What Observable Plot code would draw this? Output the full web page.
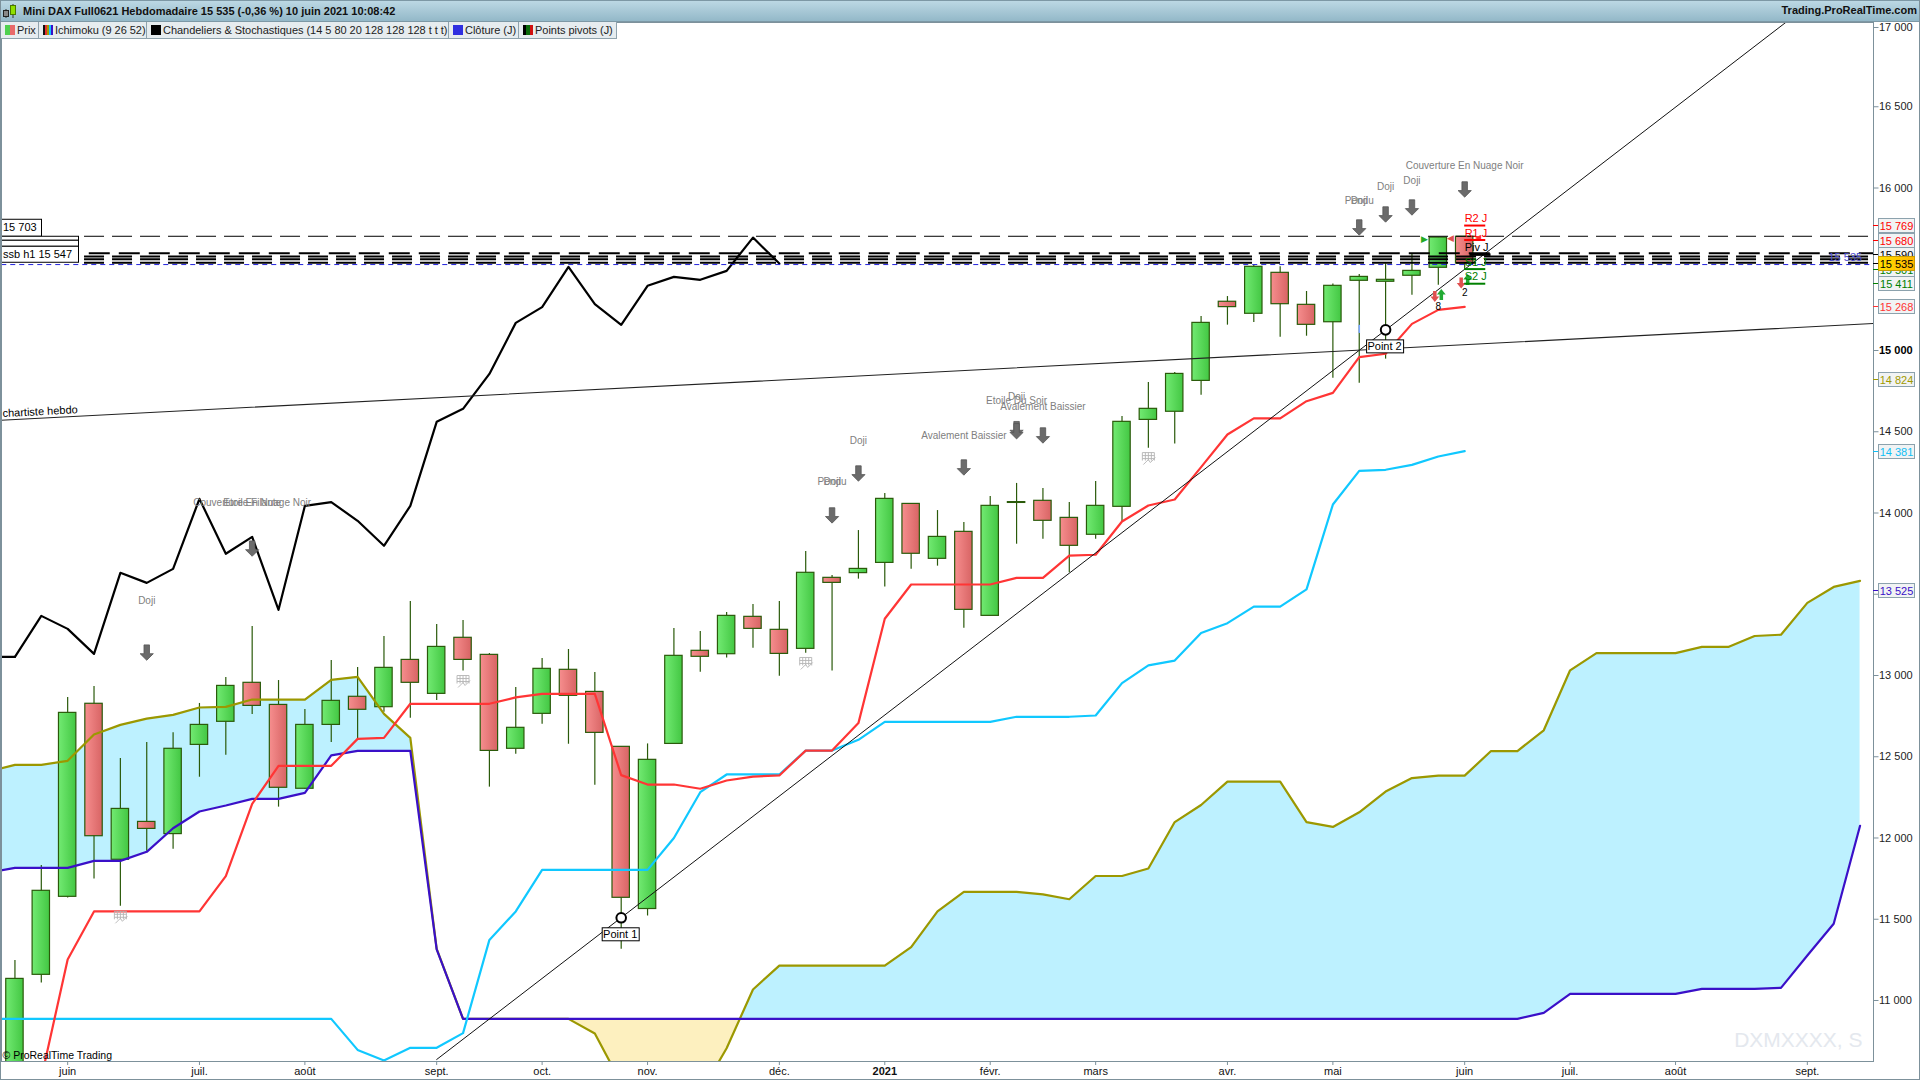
<!DOCTYPE html>
<html lang="fr">
<head>
<meta charset="utf-8">
<title>Mini DAX Full0621 Hebdomadaire</title>
<script src="https://cdn.jsdelivr.net/npm/d3@7"></script>
<script src="https://cdn.jsdelivr.net/npm/@observablehq/plot@0.6"></script>
<style>
html,body{margin:0;padding:0;background:#fff;width:1920px;height:1080px;overflow:hidden;font-family:"Liberation Sans",Arial,sans-serif}
#page{position:relative;width:1920px;height:1080px;overflow:hidden}
#titlebar{height:22px;box-sizing:border-box;background:linear-gradient(#bcd8e4,#93b8c8);border-bottom:1px solid #7d98a5;border-top:1px solid #7d98a5;display:flex;align-items:center;font-size:11px;font-weight:bold;color:#111;white-space:nowrap;position:relative}
#titlebar svg{margin:0 5px 0 2px}
#titlebar .r{position:absolute;right:3px;top:3px;font-size:11px}
#legend{position:absolute;top:22px;left:1px;height:17px;display:flex;font-size:11px;letter-spacing:-.03px;color:#222;z-index:3}
#legend div{box-sizing:border-box;height:17px;background:#e6ecef;border-right:1px solid #8fa3ad;border-bottom:1px solid #8fa3ad;display:flex;align-items:center;white-space:nowrap;overflow:hidden;padding-left:4px}
#legend i{display:inline-block;width:10px;height:10px;margin-right:2px;flex:none}
#bR,#bB,#bL{position:absolute;background:#7d919b}
#bR{right:0;top:0;width:1px;height:1080px}
#bB{left:0;bottom:0;height:1px;width:1920px}
#bL{left:0;top:0;width:1px;height:1080px}
#chart svg{display:block}
g[aria-label="pattern"] text{letter-spacing:.82px}
</style>
</head>
<body>
<div id="page">
  <div id="titlebar">
    <svg width="16" height="16" viewBox="0 0 16 16"><path d="M4 6v9M11 1v14" stroke="#333"/><rect x="1.5" y="7.5" width="5" height="6" fill="#888" stroke="#222"/><rect x="8.5" y="2.5" width="5" height="9" fill="#8fe000" stroke="#4a7a00"/></svg>
    <span>Mini DAX Full0621 Hebdomadaire 15 535 (-0,36 %) 10 juin 2021 10:08:42</span>
    <span class="r">Trading.ProRealTime.com</span>
  </div>
  <div id="legend">
    <div style="width:38px"><i style="background:linear-gradient(90deg,#4fd04f 50%,#e86a6a 50%)"></i>Prix</div>
    <div style="width:108px"><i style="background:linear-gradient(90deg,#111 20%,#e03030 20% 40%,#a09a00 40% 60%,#10c0ff 60% 80%,#3a10c8 80%)"></i>Ichimoku (9 26 52)</div>
    <div style="width:302px"><i style="background:#000"></i>Chandeliers &amp; Stochastiques (14 5 80 20 128 128 128 t t t)</div>
    <div style="width:70px"><i style="background:#2f2fe0"></i>Clôture (J)</div>
    <div style="width:98px"><i style="background:linear-gradient(90deg,#000 33%,#0a6a0a 33% 66%,#d01010 66%)"></i>Points pivots (J)</div>
  </div>
  <div id="chart"></div>
  <div id="bR"></div><div id="bB"></div><div id="bL"></div>
</div>
<script>
// ---- Candles, one value per week from index 0 ----
const opens  = [10400,11158,11638,12826,11866,12099,12024,12573,12715,12955,12819,12303,12696,12869,12805,13096,12887,13232,13127,12549,12764,13035,12899,12561,11563,12579,13152,13131,13361,13281,13164,13601,13630,13693,14056,13718,13884,13367,14062,14075,13970,13866,14038,14573,14623,14813,15300,15226,15478,15281,15174,15429,15423,15460,15509,15700];
const closes = [11133,11675,12770,12011,12179,12056,12549,12696,12936,12813,12309,12696,12844,12789,13047,12955,13176,13096,12536,12678,13041,12875,12647,11632,12481,13121,13115,13367,13287,13133,13632,13570,13656,14087,13749,13853,13404,14044,14067,13952,13798,14044,14561,14641,14856,15170,15267,15515,15285,15158,15398,15453,15435,15490,15695,15535];
const highs  = [11246,11831,12865,12932,12489,12588,12647,12828,12988,13301,12969,12791,13092,13049,13240,13455,13314,13338,13135,12926,13105,13160,13018,12561,12579,13289,13271,13388,13437,13455,13763,13615,13892,14120,14056,14015,13941,14101,14182,14151,14065,14194,14594,14803,14864,15209,15332,15523,15515,15363,15410,15468,15533,15595,15695,15700];
const lows   = [10400,11107,11630,11747,11580,11919,11931,12374,12510,12760,12190,12300,12588,12610,12774,12737,12846,13027,12313,12516,12700,12577,12325,11316,11520,12579,13020,13107,13168,12996,13137,13027,13593,13544,13654,13673,13291,13367,13808,13839,13632,13839,13944,14399,14424,14725,15156,15172,15082,15088,14830,14799,14947,15340,15402,15500];

// ---- Ichimoku ----
const spanAStart = -1;
const spanA = [12409,12450,12450,12475,12637,12696,12735,12758,12803,12807,12852,12852,12852,12973,12992,12764,12616,11318,10887,10887,10887,10887,10887,10797,10492,10400,10400,10428,10706,11068,11215,11215,11215,11215,11215,11329,11548,11668,11668,11668,11653,11623,11766,11766,11812,12098,12203,12347,12347,12347,12098,12068,12158,12286,12369,12384,12384,12535,12535,12663,13032,13138,13138,13138,13138,13176,13176,13243,13251,13447,13545,13582];
const spanB = [11786,11816,11816,11816,11859,11859,11915,12060,12163,12200,12241,12241,12278,12508,12536,12536,12536,11314,10887,10887,10887,10887,10887,10887,10887,10887,10887,10887,10887,10887,10887,10887,10887,10887,10887,10887,10887,10887,10887,10887,10887,10887,10887,10887,10887,10887,10887,10887,10887,10887,10887,10887,10887,10887,10887,10887,10887,10887,10887,10924,11041,11041,11041,11041,11041,11072,11072,11072,11078,11277,11472,12075];
const kijunStart = -1;
const kijun = [10887,10887,10887,10887,10887,10887,10887,10887,10887,10887,10887,10887,10887,10887,10696,10631,10709,10709,10799,11373,11548,11804,11804,11804,11804,11804,12000,12282,12391,12391,12391,12538,12538,12604,12715,12715,12715,12715,12715,12746,12746,12746,12754,12953,13062,13092,13262,13322,13424,13424,13530,14052,14259,14266,14296,14348,14381];
const tenkanStart = 1;
const tenkan = [10522,11252,11548,11548,11548,11548,11548,11765,12210,12444,12444,12444,12610,12616,12826,12826,12826,12826,12865,12887,12887,12887,12387,12329,12329,12303,12354,12378,12385,12538,12538,12707,13349,13560,13560,13560,13560,13601,13601,13738,13743,13948,14046,14083,14282,14483,14582,14582,14688,14739,14959,14980,15164,15250,15268];
// Lagging span: the weekly close drawn 26 weeks back
const chikouLag = 26;

// ---- Axes ----
const xTicks = [2,7,11,16,20,24,29,37,41,46,50,55,59,63,68];
const xTickLabels = ["juin","juil.","août","sept.","oct.","nov.","déc.","févr.","mars","avr.","mai","juin","juil.","août","sept."];
const xBoldTick = 33, xBoldLabel = "2021";
const yTicks = [11000,11500,12000,12500,13000,13500,14000,14500,16000,16500];
const yTopTick = 17000;
const yBoldTick = 15000;

// ---- Levels ----
const lastPrice = 15535;
const levelThin = [15703];
const levelWide = [15599];
const levelGroup = [15578,15562,15540];
const pivotNames = ["R2 J","R1 J","Piv J","S1 J","S2 J"];
const pivotValues = [15769,15680,15590,15501,15411];
const pivotColors = ["#ff0000","#ff0000","#000000","#008000","#008000"];
const tagValues = [15769,15680,15590,15501,15411,15268,14824,14381,13525,15535];
const tagColors = ["#ff0000","#ff0000","#000000","#008000","#008000","#ff3333","#a09a00","#10bff5","#3a10c8","#000000"];

// ---- Trend lines ----
const trendWeeks = [16,68];
const trendValues = [10637,17121];
const chartisteWeeks = [-1,71];
const chartisteValues = [14567,15170];
const anchorWeeks = [23,52];
const anchorValues = [11509,15127];
const anchorNames = ["Point 1","Point 2"];

// ---- Candle patterns ----
const arrowWeeks  = [5,9,31,32,36,38,38,39,51,52,53,55];
const arrowValues = [13141,13781,13985,14243,14280,14516,14503,14477,15757,15837,15880,15991];
const patWeeks  = [5,9,9,31,31,32,36,38,38,39,51,51,52,53,55];
const patValues = [13461,14060,14060,14194,14194,14442,14473,14688,14713,14655,15919,15919,16005,16042,16134];
const patNames  = ["Doji","Couverture En Nuage Noir","Etoile Filante","Pendu","Doji","Doji","Avalement Baissier","Etoile Du Soir","Doji","Avalement Baissier","Pendu","Doji","Doji","Doji","Couverture En Nuage Noir"];
const iconWeeks = [4,17,30,43];
const iconValues = [11512,12963,13074,14335];
const downWeeks = [54,55], downValues = [15332,15416];
const upWeeks = [54,55], upValues = [15345,15437];
const countWeeks = [54,55], countValues = [15266,15358], countNames = ["8","2"];

// ---- Colours ----
const wick = "#2a5a0a", red = "#ff3535", cyan = "#10c8ff", olive = "#9c9800", blue = "#3a10c8";
const gray = "#7d919b";

const fmt = v => String(v).replace(/(\d+)(\d{3})$/, "$1 $2");
const pts = (start, arr) => arr.map((v, k) => ({i: start + k, v}));
const zip = (a, b) => a.map((i, k) => ({i, v: b[k]}));
const candles = closes.map((c, i) => ({i, o: opens[i], c, h: highs[i], l: lows[i]}));
const up = candles.filter(d => d.c >= d.o), down = candles.filter(d => d.c < d.o);

// Cloud table: both spans, with the point where they cross, so that each colour stops there
const cloud = [];
spanA.forEach((a, k) => {
  const b = spanB[k], i = spanAStart + k;
  if (k) {
    const a0 = spanA[k - 1], b0 = spanB[k - 1];
    if ((a0 - b0) * (a - b) < 0) {
      const t = (b0 - a0) / ((a - a0) - (b - b0));
      const m = a0 + t * (a - a0);
      cloud.push({i: i - 1 + t, a: m, b: m});
    }
  }
  cloud.push({i, a, b});
});

const clip = {clip: true};
const poly = (P, u, c) => { P.forEach(([x,y],n)=> n ? c.lineTo(x*u,y*u) : c.moveTo(x*u,y*u)); c.closePath(); };
const symbolArrow = {draw(c, s) { poly([[-2.5,-7],[2.5,-7],[2.5,1],[6,1],[0,7],[-6,1],[-2.5,1]], Math.sqrt(s / Math.PI) / 6, c); }};
const symbolUp = {draw(c, s) { poly([[-1.6,5],[1.6,5],[1.6,0],[4,0],[0,-5],[-4,0],[-1.6,0]], Math.sqrt(s / Math.PI) / 5, c); }};
const symbolDown = {draw(c, s) { poly([[-1.6,-5],[1.6,-5],[1.6,0],[4,0],[0,5],[-4,0],[-1.6,0]], Math.sqrt(s / Math.PI) / 5, c); }};
const symbolIcon = {draw(c, s) { const u = Math.sqrt(s / Math.PI) / 6;
  for (let x=-6;x<=6;x+=3){c.moveTo(x*u,-6*u);c.lineTo(x*u,2*u);}
  for (let y=-6;y<=2;y+=3){c.moveTo(-6*u,y*u);c.lineTo(6*u,y*u);}
  c.moveTo(-5*u,6*u);c.lineTo(0,1*u);c.lineTo(2*u,4*u);c.lineTo(7*u,-1*u); }};

function gradients() {
  const g = d3.create("svg:defs");
  const add = (id, a, b) => { const l = g.append("linearGradient").attr("id", id);
    l.append("stop").attr("offset", "0").attr("stop-color", a);
    l.append("stop").attr("offset", "1").attr("stop-color", b); };
  add("candleUp", "#72ea72", "#43c743");
  add("candleDown", "#f68e8e", "#d86464");
  add("tagGold", "#ffe000", "#ffb400");
  const o = d3.create("svg:g"); o.node().append(g.node());
  return o.node();
}
function box(g, x, y, w, h, text, anchor) {
  g.append("rect").attr("x", x + .5).attr("y", y + .5).attr("width", w).attr("height", h).attr("fill", "#fff").attr("stroke", "#000");
  if (text) g.append("text").attr("x", anchor === "middle" ? x + w / 2 : x + 2).attr("y", y + h / 2 + 4).attr("text-anchor", anchor || "start").attr("fill", "#000").text(text);
}
function leftBoxes(index, {y}) {
  const g = d3.create("svg:g").attr("font-size", 11);
  const y0 = y(levelThin[0]);
  box(g, 1, y0 - 17, 40, 17, fmt(levelThin[0]));
  box(g, 1, y0, 77, 4);
  box(g, 1, y0 + 4, 77, 6);
  box(g, 1, y0 + 10, 77, 16, "ssb h1 15 547");
  return g.node();
}
function anchorBoxes(index, {x, y}) {
  const g = d3.create("svg:g").attr("font-size", 11);
  anchorWeeks.forEach((w, k) => {
    box(g, x(w) - 19, y(anchorValues[k]) + 10, 37, 13, anchorNames[k], "middle");
  });
  return g.node();
}
function priceTags(index, {y}, _, {width, marginRight}) {
  const g = d3.create("svg:g").attr("font-size", 11);
  const ax = width - marginRight;
  tagValues.forEach((v, k) => {
    const yy = Math.round(y(v)), last = v === lastPrice;
    g.append("line").attr("x1", ax).attr("x2", ax + 5).attr("y1", yy + .5).attr("y2", yy + .5).attr("stroke", tagColors[k]);
    g.append("rect").attr("x", ax + 5.5).attr("y", yy - 6.5).attr("width", 36).attr("height", 14)
      .attr("fill", last ? "url(#tagGold)" : "#f1f3f4").attr("stroke", last ? "#c89c00" : "#8ca2ad");
    g.append("text").attr("x", ax + 23.5).attr("y", yy + 4.5).attr("text-anchor", "middle").attr("fill", tagColors[k]).text(fmt(v));
  });
  return g.node();
}

const body = (data, fill) => Plot.rect(data, {x1: d => d.i - .33, x2: d => d.i + .33,
  y1: d => d.o === d.c ? d.o - 2 : d.o, y2: d => d.o === d.c ? d.c + 2 : d.c,
  fill, stroke: wick, strokeWidth: 1.2, ...clip});

const plot = Plot.plot({
  width: 1920, height: 1058,
  marginTop: 0, marginBottom: 19, marginLeft: 1, marginRight: 47,
  style: {fontFamily: '"Liberation Sans", Arial, sans-serif', fontSize: "11px", background: "#fff", color: "#111"},
  x: {domain: [-.51, 70.51]},
  y: {domain: [10624.6, 17018.5]},
  marks: [
    gradients,
    // Cloud
    Plot.areaY(cloud, {x: "i", y1: "b", y2: d => Math.max(d.a, d.b), fill: "#bdf1ff", ...clip}),
    Plot.areaY(cloud, {x: "i", y1: "b", y2: d => Math.min(d.a, d.b), fill: "#fdf0bf", ...clip}),
    // Candles
    Plot.ruleX(candles, {x: "i", y1: "l", y2: "h", stroke: wick, strokeWidth: 1.2, ...clip}),
    body(up, "url(#candleUp)"),
    body(down, "url(#candleDown)"),
    // Ichimoku lines
    Plot.line(pts(spanAStart, spanA), {x: "i", y: "v", stroke: olive, strokeWidth: 2.2, ...clip}),
    Plot.line(pts(spanAStart, spanB), {x: "i", y: "v", stroke: blue, strokeWidth: 2.2, ...clip}),
    Plot.line(pts(kijunStart, kijun), {x: "i", y: "v", stroke: cyan, strokeWidth: 2.2, ...clip}),
    Plot.line(pts(tenkanStart, tenkan), {x: "i", y: "v", stroke: red, strokeWidth: 2.2, ...clip}),
    Plot.line(closes.slice(chikouLag).map((v, k) => ({i: k, v})), {x: "i", y: "v", stroke: "#000", strokeWidth: 2.2, ...clip}),
    Plot.line([{i: -1, v: closes[chikouLag]}, {i: 0, v: closes[chikouLag]}], {x: "i", y: "v", stroke: "#000", strokeWidth: 2.2, ...clip}),
    // Trend lines
    Plot.line(zip(trendWeeks, trendValues), {x: "i", y: "v", stroke: "#111", strokeWidth: 1, ...clip}),
    Plot.line(zip(chartisteWeeks, chartisteValues), {x: "i", y: "v", stroke: "#222", strokeWidth: 1.1, ...clip}),
    Plot.text(["chartiste hebdo"], {x: -.47, y: 14612, text: d => d, textAnchor: "start", rotate: -3, fill: "#000", fontSize: 11}),
    // Levels
    Plot.ruleY(levelThin, {x1: 2.64, x2: 70.51, stroke: "#000", strokeWidth: 1, strokeDasharray: "20 8"}),
    Plot.ruleY(levelWide, {x1: 2.82, x2: 70.51, stroke: "#000", strokeWidth: 2, strokeDasharray: "21 9"}),
    Plot.ruleY(levelGroup, {x1: 2.64, x2: 70.51, stroke: "#000", strokeWidth: 2, strokeDasharray: "20 8"}),
    Plot.ruleY([lastPrice], {x1: -.5, x2: 70.51, dy: 1, stroke: "#2222dd", strokeWidth: 1, strokeDasharray: "5 4"}),
    Plot.text(["15 535"], {x: 69.44, y: 15572, text: d => d, fill: "#4a4acc", fontSize: 11}),
    leftBoxes,
    // Candle patterns
    Plot.text(patNames, {x: (d, k) => patWeeks[k], y: (d, k) => patValues[k], text: d => d, fill: "#808080", fontSize: 10, ariaLabel: "pattern"}),
    Plot.dot(arrowWeeks, {x: d => d, y: (d, k) => arrowValues[k], r: 6.6, symbol: symbolArrow, fill: "#6b6b6b", stroke: "#555", strokeWidth: .8}),
    Plot.dot(iconWeeks, {x: d => d, y: (d, k) => iconValues[k], r: 6, symbol: symbolIcon, fill: "none", stroke: "#b4b4b4", strokeWidth: .9}),
    Plot.dot(downWeeks, {x: d => d, y: (d, k) => downValues[k], dx: -3.5, r: 5.5, symbol: symbolDown, fill: "#e05050", stroke: "none"}),
    Plot.dot(upWeeks, {x: d => d, y: (d, k) => upValues[k], dx: 3, r: 5.5, symbol: symbolUp, fill: "#22aa33", stroke: "none"}),
    Plot.text(countNames, {x: (d, k) => countWeeks[k], y: (d, k) => countValues[k], text: d => d, fill: "#000", fontSize: 10}),
    Plot.text(["▶"], {x: 54, y: 15686, dx: -14, text: d => d, fill: "#22aa22", fontSize: 9}),
    Plot.text(["◀"], {x: 55, y: 15690, dx: -14, text: d => d, fill: "#e05050", fontSize: 9}),
    Plot.text(["◀"], {x: 55, y: 15695, dx: 13, text: d => d, fill: "#ff3030", fontSize: 8}),
    Plot.ruleX([51], {y1: 15105, y2: 15155, stroke: "#7aa8ff", strokeWidth: 1.6}),
    // Pivots
    Plot.ruleY(pivotValues.filter((d, k) => k !== 2), {x1: 55, x2: 55.8, stroke: (d) => pivotColors[pivotValues.indexOf(d)], strokeWidth: 2}),
    Plot.ruleY([pivotValues[2]], {x1: 55.2, x2: 56, stroke: "#000", strokeWidth: 2.5}),
    Plot.text(pivotNames, {x: 55, y: (d, k) => pivotValues[k], dy: -7, text: d => d, textAnchor: "start", fill: (d, k) => pivotColors[k], fontSize: 11}),
    // Anchors
    Plot.dot(anchorWeeks, {x: d => d, y: (d, k) => anchorValues[k], r: 4.8, fill: "#fff", stroke: "#000", strokeWidth: 2}),
    anchorBoxes,
    // Frame, watermark, axes
    Plot.text(["DXMXXXX, S"], {frameAnchor: "bottom-right", dx: -11, dy: -15, text: d => d, fill: "#e4e8ee", fontSize: 21}),
    Plot.text(["© ProRealTime Trading"], {frameAnchor: "bottom-left", dx: 1, dy: -3, text: d => d, fill: "#000", fontSize: 10.5, lineAnchor: "bottom"}),
    Plot.frame({stroke: gray}),
    Plot.axisX({ticks: xTicks, tickFormat: d => xTickLabels[xTicks.indexOf(d)], anchor: "bottom", tickSize: 4, tickPadding: 2, stroke: gray, fill: "#111", label: null}),
    Plot.axisX({ticks: [xBoldTick], tickFormat: () => xBoldLabel, anchor: "bottom", tickSize: 4, tickPadding: 2, stroke: gray, fill: "#111", fontWeight: "bold", label: null}),
    Plot.axisY({ticks: yTicks, tickFormat: fmt, anchor: "right", tickSize: 4.5, tickPadding: 1, stroke: gray, fill: "#222", label: null}),
    Plot.axisY({ticks: [yTopTick], tickFormat: fmt, anchor: "right", dy: 2, tickSize: 4.5, tickPadding: 1, stroke: gray, fill: "#222", label: null}),
    Plot.axisY({ticks: [yBoldTick], tickFormat: fmt, anchor: "right", tickSize: 4.5, tickPadding: 1, stroke: gray, fill: "#000", fontWeight: "bold", label: null}),
    priceTags
  ]
});
document.getElementById("chart").append(plot);
</script>
</body>
</html>
